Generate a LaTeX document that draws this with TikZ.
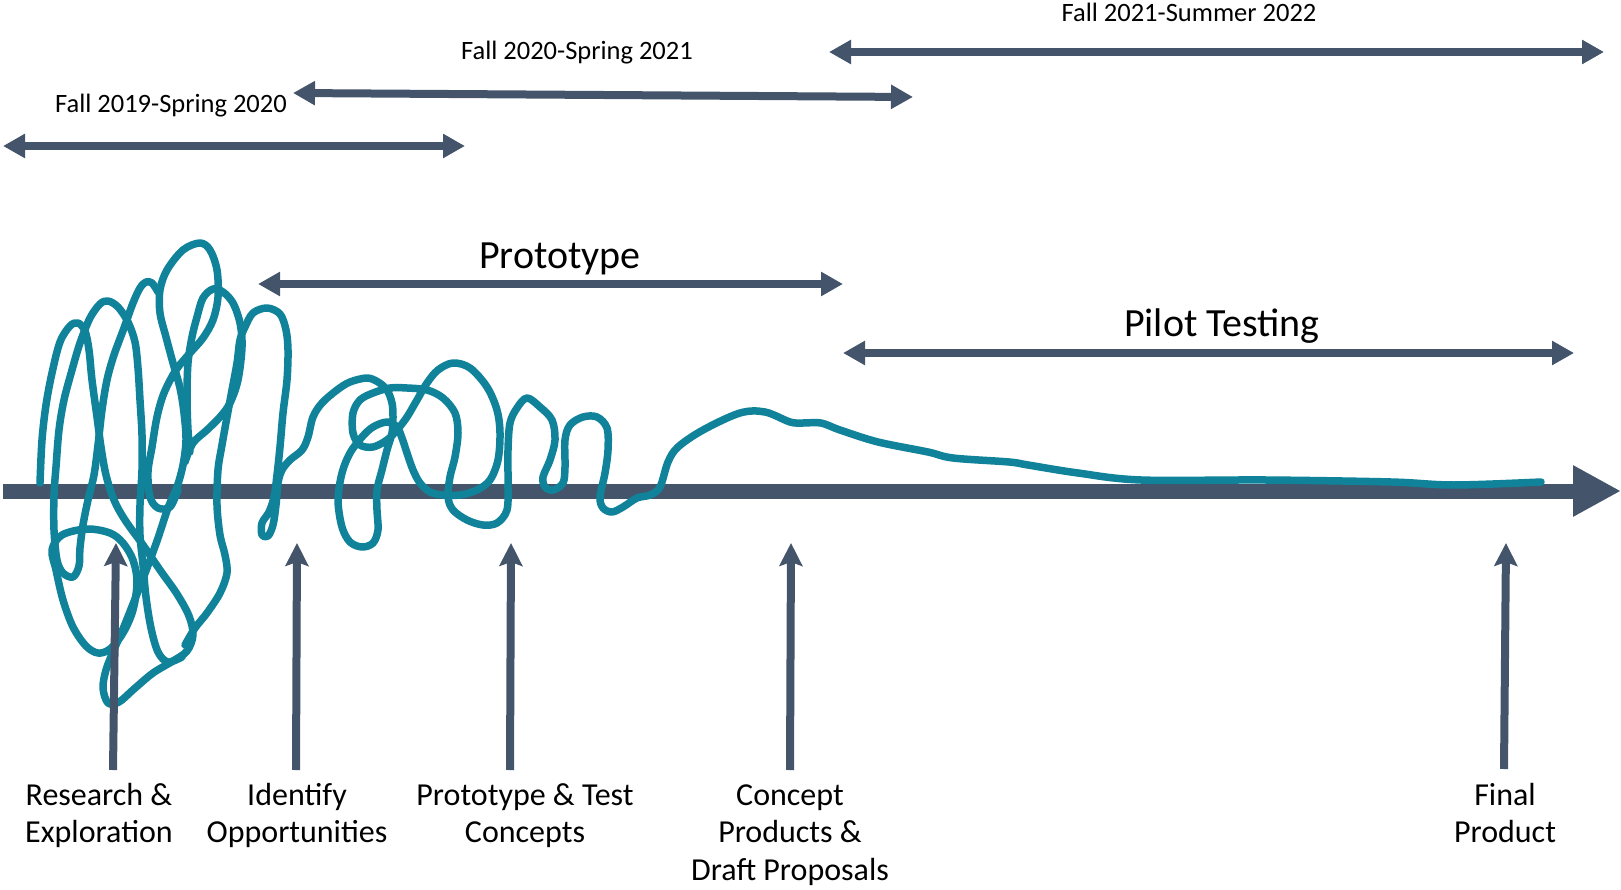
\documentclass[tikz,border=0pt]{standalone}
\usepackage{fontspec}
\setmainfont{Carlito}
\usetikzlibrary{arrows.meta}
\definecolor{slate}{RGB}{68,84,106}
\definecolor{tealc}{RGB}{16,131,154}
\begin{document}
\begin{tikzpicture}[x=1pt,y=-1pt,
  period/.style={draw=slate, line width=8pt, {Triangle[width=23pt,length=22pt]}-{Triangle[width=23pt,length=22pt]}},
  pointer/.style={draw=slate, line width=8pt, -{Stealth[width=23pt,length=23pt,inset=4pt]}},
  axisline/.style={draw=slate, line width=15pt, -{Triangle[width=48pt,length=48pt]}},
  scribble/.style={draw=tealc, line width=7.5pt, line cap=round, line join=round},
  datelbl/.style={font=\fontsize{26.5}{31}\selectfont, anchor=base, inner sep=0pt},
  phaselbl/.style={font=\fontsize{40}{48}\selectfont, anchor=base, inner sep=0pt},
  steplbl/.style={font=\fontsize{32}{37.5}\selectfont, align=center, anchor=north, inner sep=0pt},
]
\useasboundingbox (0,0) rectangle (1621,890);

% ---- main time axis ----
\coordinate (axa) at (3,491);
\coordinate (axb) at (1621,491);
\draw[axisline] (axa) -- (axb);

% ---- scribble ----
\draw[scribble] plot[smooth, tension=0.55] coordinates {
(40,483) (42,440) (46,405) (52,373) (60,342) (70,326) (78,323) (85,331) (89,350) (92,380) (97,417) (101,447) (106,475) (114,500) (125,520) (143,545) (160,570) (177,594) (189,616) (193,635) (187,651) (173,661) (153,673) (134,689) (119,702) (108,703) (103,688) (106,670) (113,652) (123,629) (133,604) (144,576) (157,541) (168,508) (177,487) (183,465) (186,440) (184,413) (180,388) (173,363) (166,337) (160,313) (160,290) (167,270) (183,250) (200,243) (210,250) (217,270) (218,297) (213,320) (203,338) (190,353) (176,370) (164,393) (157,417) (152,447) (148,472) (150,497) (158,508) (170,507) (178,490)};
\draw[scribble] plot[smooth, tension=0.55] coordinates {
(158,292) (152,283) (146,282) (140,288) (133,303) (124,328) (114,355) (107,380) (102,410) (98,445) (94,475) (88,500) (83,525) (80,548) (79,566) (73,577) (63,573) (57,560) (54,530) (54,495) (56,467) (59,430) (64,400) (72,370) (80,343) (90,318) (100,304) (108,301) (118,307) (128,322) (135,342) (138,368) (140,400) (142,435) (142,470) (140,505) (140,535) (143,565) (146,597) (151,628) (158,652) (168,662) (182,657)};
\draw[scribble] plot[smooth cycle, tension=0.55] coordinates {
(52,550) (62,535) (87,529) (110,533) (123,543) (133,560) (137,582) (133,610) (123,633) (110,649) (98,653) (86,646) (73,627) (63,600) (56,570)};
\draw[scribble] plot[smooth, tension=0.55] coordinates {
(190,452) (188,430) (187,397) (188,363) (192,337) (197,317) (203,298) (213,289) (223,292) (233,303) (240,323) (242,347) (238,380) (230,403) (220,417) (207,430) (193,443) (185,462)};
\draw[scribble] plot[smooth, tension=0.55] coordinates {
(185,645) (195,628) (207,613) (220,593) (227,573) (225,555) (220,535) (217,505) (218,470) (222,445) (227,417) (232,390) (237,363) (240,340) (245,327) (253,313) (267,308) (280,314) (286,330) (288,350) (287,380) (283,413) (280,447) (277,475) (274,497) (269,512) (262,523) (262,535) (268,536) (273,525) (276,505) (278,483) (282,470) (290,460) (302,450) (308,437) (313,417) (322,403) (337,390) (350,382) (367,378) (378,382) (387,390) (392,403) (393,417) (392,433) (387,450) (382,470) (377,490) (377,510) (378,530) (373,543) (362,547) (350,542) (342,527) (338,500) (342,473) (350,453) (362,437) (373,427) (387,422) (397,427) (402,438) (407,453) (413,470) (420,483) (430,492) (443,495) (460,495) (477,490) (490,480) (498,460) (500,433) (497,410) (487,387) (470,368) (453,363) (438,370) (427,383) (417,400) (407,417) (397,430) (387,440) (373,447) (360,445) (353,433) (353,413) (360,400) (373,393) (390,388) (407,388) (427,390) (443,398) (455,413) (458,433) (455,457) (450,477) (448,497) (453,510) (467,520) (483,525) (497,523) (507,510) (508,483) (508,450) (510,423) (517,408) (527,398) (540,407) (552,420) (555,440) (550,460) (543,477) (545,487) (553,490) (563,483) (565,467) (565,440) (570,425) (583,417) (597,417) (607,428) (608,450) (605,473) (600,497) (603,508) (612,512) (623,507) (637,498) (650,495) (660,487) (668,462) (678,447) (703,430) (740,413) (765,412) (790,422) (803,423) (821,423) (840,430) (878,442) (928,452) (953,458) (1009,462) (1028,465) (1078,473) (1141,480) (1266,480) (1391,482) (1454,485) (1541,482)};

% ---- period arrows ----
\coordinate (p1a) at (3,146);    \coordinate (p1b) at (465,146);
\coordinate (p2a) at (293,93);   \coordinate (p2b) at (913,97);
\coordinate (p3a) at (829,52);   \coordinate (p3b) at (1604,52);
\coordinate (proa) at (258,284); \coordinate (prob) at (843,284);
\coordinate (pila) at (843,353); \coordinate (pilb) at (1574,353);
\draw[period] (p1a) -- (p1b);
\draw[period] (p2a) -- (p2b);
\draw[period] (p3a) -- (p3b);
\draw[period] (proa) -- (prob);
\draw[period] (pila) -- (pilb);

\node[datelbl] (d1) at (171,113) {Fall 2019-Spring 2020};
\node[datelbl] (d2) at (577,60) {Fall 2020-Spring 2021};
\node[datelbl] (d3) at (1189,22) {Fall 2021-Summer 2022};
\node[phaselbl] (ph1) at (560,269) {Prototype};
\node[phaselbl] (ph2) at (1222,337) {Pilot Testing};

% ---- milestone pointers ----
\coordinate (r1a) at (113,770);  \coordinate (r1b) at (116,543);
\coordinate (r2a) at (296,770);  \coordinate (r2b) at (297,543);
\coordinate (r3a) at (510,770);  \coordinate (r3b) at (511,543);
\coordinate (r4a) at (790,770);  \coordinate (r4b) at (791,543);
\coordinate (r5a) at (1504,769); \coordinate (r5b) at (1506,543);
\draw[pointer] (r1a) -- (r1b);
\draw[pointer] (r2a) -- (r2b);
\draw[pointer] (r3a) -- (r3b);
\draw[pointer] (r4a) -- (r4b);
\draw[pointer] (r5a) -- (r5b);

\node[steplbl] (s1) at (99,779) {\strut Research \&\\Exploration};
\node[steplbl] (s2) at (297,779) {\strut Identify\\Opportunities};
\node[steplbl] (s3) at (525,779) {\strut Prototype \& Test\\Concepts};
\node[steplbl] (s4) at (790,779) {\strut Concept\\Products \&\\Draft Proposals};
\node[steplbl] (s5) at (1505,779) {\strut Final\\Product};
\end{tikzpicture}
\end{document}
